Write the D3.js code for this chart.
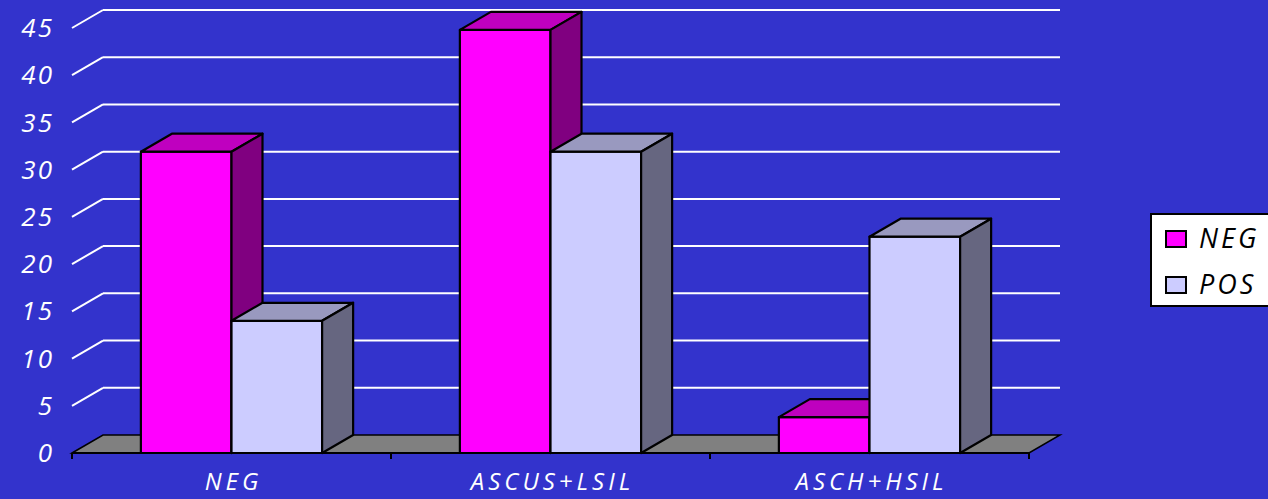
<!DOCTYPE html>
<html>
<head>
<meta charset="utf-8">
<script src="https://cdn.jsdelivr.net/npm/d3@7"></script>
<style>
  body { margin: 0; background: #3333cc; }
  svg { display: block; }
  text { font-family: "Comic Sans MS", "Open Sans", sans-serif; font-style: italic; }
</style>
</head>
<body>
<svg></svg>
<script>
const width = 1268;
const height = 499;

// datos
const categories = ["NEG", "ASCUS+LSIL", "ASCH+HSIL"];
const series = ["NEG", "POS"];
const negValues = [31.9, 44.8, 3.8];
const posValues = [14, 31.9, 22.9];
const yTicks = [0, 5, 10, 15, 20, 25, 30, 35, 40, 45];

const front = { left: 72, right: 1029, bottom: 453, top: 28 };
const depth = { dx: 31, dy: -18 };

const colors = {
  NEG: { front: "#ff00ff", top: "#bf00bf", side: "#800080" },
  POS: { front: "#ccccff", top: "#9999bf", side: "#666680" }
};

const svg = d3.select("svg")
  .attr("width", width)
  .attr("height", height);

svg.append("rect")
  .attr("width", width)
  .attr("height", height)
  .attr("fill", "#3333cc");

const x0 = d3.scaleBand()
  .domain(categories)
  .range([front.left, front.right]);

const x1 = d3.scaleBand()
  .domain(series)
  .range([0, x0.bandwidth()])
  .paddingOuter(0.76);

const y = d3.scaleLinear()
  .domain([0, 45])
  .range([front.bottom, front.top]);

// lineas de la pared de fondo
svg.append("g")
  .selectAll("line")
  .data(yTicks.filter(d => d > 0))
  .join("line")
  .attr("x1", front.left + depth.dx)
  .attr("x2", front.right + depth.dx)
  .attr("y1", d => y(d) + depth.dy)
  .attr("y2", d => y(d) + depth.dy)
  .attr("stroke", "#ffffff")
  .attr("stroke-width", 2);

// diagonales de la pared izquierda
svg.append("g")
  .selectAll("line")
  .data(yTicks.filter(d => d > 0))
  .join("line")
  .attr("x1", front.left)
  .attr("x2", front.left + depth.dx)
  .attr("y1", d => y(d))
  .attr("y2", d => y(d) + depth.dy)
  .attr("stroke", "#ffffff")
  .attr("stroke-width", 2);

// piso
const y0 = y(0);
svg.append("path")
  .attr("d", `M${front.left},${y0} L${front.left + depth.dx},${y0 + depth.dy} L${front.right + depth.dx},${y0 + depth.dy} L${front.right},${y0} Z`)
  .attr("fill", "#808080")
  .attr("stroke", "#000")
  .attr("stroke-width", 1.5);

// eje x
svg.append("line")
  .attr("x1", front.left).attr("x2", front.right)
  .attr("y1", y0).attr("y2", y0)
  .attr("stroke", "#000").attr("stroke-width", 2);

svg.append("g")
  .selectAll("line")
  .data(categories.map(c => x0(c)).concat([front.right]))
  .join("line")
  .attr("x1", d => d).attr("x2", d => d)
  .attr("y1", y0).attr("y2", y0 + 6)
  .attr("stroke", "#000").attr("stroke-width", 2);

// barras 3D
const bars = [];
categories.forEach((c, i) => {
  bars.push({ cat: c, s: "NEG", v: negValues[i] });
  bars.push({ cat: c, s: "POS", v: posValues[i] });
});

const bw = x1.bandwidth();
const g = svg.append("g").attr("stroke", "#000").attr("stroke-width", 2.2).attr("stroke-linejoin", "round");

bars.forEach(d => {
  const xl = x0(d.cat) + x1(d.s);
  const xr = xl + bw;
  const yt = y(d.v);
  const c = colors[d.s];
  // cara frontal
  g.append("rect")
    .attr("x", xl).attr("y", yt)
    .attr("width", bw).attr("height", y0 - yt)
    .attr("fill", c.front);
  // cara superior
  g.append("path")
    .attr("d", `M${xl},${yt} L${xl + depth.dx},${yt + depth.dy} L${xr + depth.dx},${yt + depth.dy} L${xr},${yt} Z`)
    .attr("fill", c.top);
  // cara lateral
  g.append("path")
    .attr("d", `M${xr},${yt} L${xr + depth.dx},${yt + depth.dy} L${xr + depth.dx},${y0 + depth.dy} L${xr},${y0} Z`)
    .attr("fill", c.side);
});

// etiquetas eje y
svg.append("g")
  .selectAll("text")
  .data(yTicks)
  .join("text")
  .attr("x", 54)
  .attr("y", d => y(d))
  .attr("dy", "0.35em")
  .attr("text-anchor", "end")
  .attr("fill", "#fff")
  .style("font-size", "26px")
  .style("letter-spacing", "2px")
  .text(d => d);

// etiquetas eje x
svg.append("g")
  .selectAll("text")
  .data(categories)
  .join("text")
  .attr("x", d => x0(d) + x0.bandwidth() / 2 + 2)
  .attr("y", 490)
  .attr("text-anchor", "middle")
  .attr("fill", "#fff")
  .style("font-size", "24px")
  .style("letter-spacing", "4px")
  .text(d => d);

// leyenda
const legend = svg.append("g");
legend.append("rect")
  .attr("x", 1151).attr("y", 214)
  .attr("width", 130).attr("height", 92)
  .attr("fill", "#fff")
  .attr("stroke", "#000").attr("stroke-width", 2);

const ly = d3.scalePoint().domain(series).range([239, 285]);
legend.selectAll(".sw")
  .data(series)
  .join("rect")
  .attr("class", "sw")
  .attr("x", 1166).attr("y", d => ly(d) - 8)
  .attr("width", 20).attr("height", 16)
  .attr("fill", d => colors[d].front)
  .attr("stroke", "#000").attr("stroke-width", 2);

legend.selectAll(".lt")
  .data(series)
  .join("text")
  .attr("class", "lt")
  .attr("x", 1199).attr("y", d => ly(d))
  .attr("dy", "0.35em")
  .attr("fill", "#000")
  .style("font-size", "27px")
  .style("letter-spacing", "3px")
  .text(d => d);
</script>
</body>
</html>
